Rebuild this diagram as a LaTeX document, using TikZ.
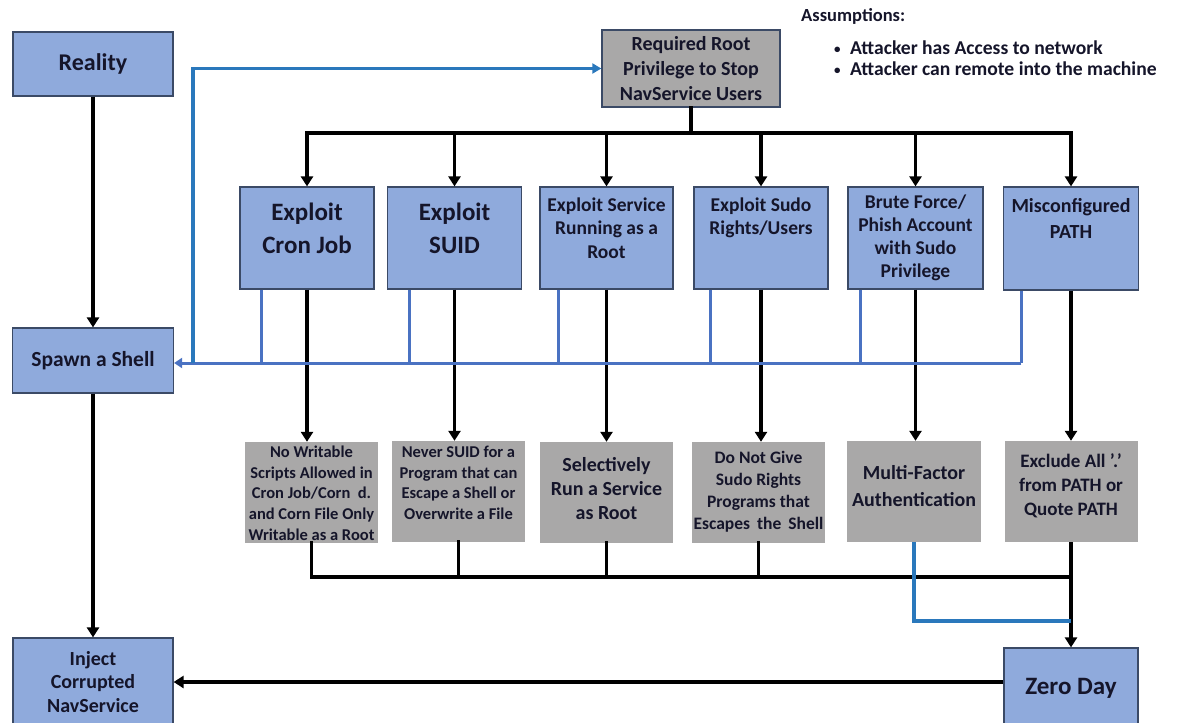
\documentclass[tikz,border=0pt]{standalone}
\usepackage{fontspec}
\setmainfont{Carlito}
\usetikzlibrary{arrows.meta,calc}

\definecolor{boxblue}{HTML}{8FAADC}
\definecolor{boxedge}{HTML}{3B4A66}
\definecolor{boxgray}{HTML}{A9A8A8}
\definecolor{ink}{HTML}{15152A}
\definecolor{busblue}{HTML}{4A72C2}
\definecolor{linkblue}{HTML}{2A78BC}

% top-aligned text block: height, width, font size, line skip, first baseline, text
\newcommand\boxtxt[6]{\parbox[c][#1pt][t]{#2pt}{\centering\fontsize{#3pt}{#4pt}\selectfont\rule{0pt}{#5pt}#6}}
\newcommand\fs[2]{\fontsize{#1pt}{#2pt}\selectfont}
\newcommand\bul{\makebox[16pt][l]{\raisebox{1pt}{\fs{13}{13}•}}}

\tikzset{
  bluebox/.style={draw=boxedge, line width=1.2pt, fill=boxblue, inner sep=0pt, text=ink, font=\bfseries},
  graybox/.style={fill=boxgray, inner sep=0pt, text=ink, font=\bfseries},
  rootbox/.style={draw=boxedge, line width=1.4pt, fill=boxgray, inner sep=0pt, text=ink, font=\bfseries},
  plain/.style={inner sep=0pt, text=ink, font=\bfseries},
  flow/.style={draw=black, line width=3.5pt, line cap=rect},
  flowarrow/.style={draw=black, line width=3.5pt, -{Triangle[width=12pt,length=10pt]}},
  busline/.style={draw=busblue, line width=3pt},
  linkline/.style={draw=linkblue, line width=3.2pt},
}

\begin{document}
\begin{tikzpicture}[x=1pt,y=-1pt]
\useasboundingbox (0,0) rectangle (1179,723);
\clip (0,0) rectangle (1179,723);

% left column
\node[bluebox, minimum width=160, minimum height=64, font=\bfseries\fs{24}{29}] (reality) at (93,64) {Reality};
\node[bluebox, minimum width=161, minimum height=65, font=\bfseries\fs{21.5}{26}] (spawn) at (93,360.5) {Spawn a Shell};
\node[bluebox, minimum width=160, minimum height=88, align=center, font=\bfseries\fs{20}{23.5}] (inject) at (93,682) {Inject\\Corrupted\\NavService};

% goal and assumptions
\node[rootbox, minimum width=178, minimum height=77, align=center, font=\bfseries\fs{20}{25}] (req) at (691,68.5) {Required Root\\Privilege to Stop\\NavService Users};
\node[plain, anchor=base west, font=\bfseries\fs{18.5}{22}] (asm) at (801,21) {Assumptions:};
\node[plain, anchor=base west, font=\bfseries\fs{19.6}{22}] (as1) at (834,54) {\bul Attacker has Access to network};
\node[plain, anchor=base west, font=\bfseries\fs{19.6}{22}] (as2) at (834,75) {\bul Attacker can remote into the machine};

% attack paths
\node[bluebox] (b1) at (307,238) {\boxtxt{102}{134}{25}{33}{33}{Exploit\\Cron Job}};
\node[bluebox] (b2) at (454.5,238) {\boxtxt{102}{134}{25}{33}{33}{Exploit\\SUID}};
\node[bluebox] (b3) at (606.5,238) {\boxtxt{102}{133}{19.5}{23.5}{24}{Exploit Service\\Running as a\\Root}};
\node[bluebox] (b4) at (761,238) {\boxtxt{102}{134}{19.5}{23.5}{24}{Exploit Sudo\\Rights/Users}};
\node[bluebox] (b5) at (915.5,238) {\boxtxt{102}{135}{19.5}{23}{21}{Brute Force/\\Phish Account\\with Sudo\\Privilege}};
\node[bluebox] (b6) at (1071,238.5) {\boxtxt{103}{135}{20}{26}{25.5}{Misconfigured\\PATH}};

% mitigations
\node[graybox] (g1) at (311.5,492.5) {\boxtxt{101}{133}{16.5}{20.7}{15.5}{No Writable\\Scripts Allowed in\\Cron Job/Corn\ \ d.\\and Corn File Only\\Writable as a Root}};
\node[graybox] (g2) at (458.5,491.5) {\boxtxt{101}{133}{16.5}{20.7}{16.5}{Never SUID for a\\Program that can\\Escape a Shell or\\Overwrite a File}};
\node[graybox] (g3) at (606.5,492.5) {\boxtxt{101}{133}{20}{24}{29.5}{Selectively\\Run a Service\\as Root}};
\node[graybox] (g4) at (758.5,492.5) {\boxtxt{101}{133}{17.5}{22}{21}{Do Not Give\\Sudo Rights\\Programs that\\{\spaceskip=7pt plus 1pt Escapes the Shell}}};
\node[graybox] (g5) at (914,491.5) {\boxtxt{101}{134}{20}{27}{38.5}{Multi-Factor\\Authentication}};
\node[graybox] (g6) at (1071,491.5) {\boxtxt{101}{133}{19}{24}{26}{Exclude All ’.’\\from PATH or\\Quote PATH}};

\node[bluebox, minimum width=134, minimum height=82, font=\bfseries\fs{25}{30}] (zero) at (1071,689) {\raisebox{6pt}{Zero Day}};

% bus levels
\coordinate (topbus) at (0,133);
\coordinate (fb) at (0,363);
\coordinate (botbus) at (0,577);
\coordinate (mfa) at (0,621);
\coordinate (fbL) at (193,363);

% goal fans out to the attack paths
\draw[flow] (req.south) -- (req.south |- topbus);
\draw[flow] (b1.north |- topbus) -- (b6.north |- topbus);
\foreach \b in {b1,b2,b3,b4,b5,b6}
  \draw[flowarrow] (\b.north |- topbus) -- (\b.north);

% each attack path to its mitigation
\foreach \i in {1,...,6}
  \draw[flowarrow] (b\i.south) -- (b\i.south |- g\i.north);

% mitigations merge into the zero day
\foreach \i in {1,2,3,4}
  \draw[flow] (g\i.south) -- (g\i.south |- botbus);
\draw[flow] (g1.south |- botbus) -- (zero.north |- botbus);
\draw[flowarrow] (g6.south) -- (zero.north);
\draw[linkline] (g5.south) |- (zero.north |- mfa);

% shell feedback from every attack path
\coordinate (f1) at ($(b1.south west)+(22,0)$);
\coordinate (f2) at ($(b2.south west)+(22.5,0)$);
\coordinate (f3) at ($(b3.south west)+(19,0)$);
\coordinate (f4) at ($(b4.south west)+(17,0)$);
\coordinate (f5) at ($(b5.south west)+(13,0)$);
\coordinate (f6) at ($(b6.south west)+(18.5,0)$);
\foreach \f in {f1,f2,f3,f4,f5,f6}
  \draw[busline] (\f) -- (\f |- fb);
\draw[busline, -{Triangle[width=10pt,length=8pt]}] (f6 |- fb) -- (spawn.east |- fb);
\draw[linkline, -{Triangle[width=10pt,length=9pt]}] (fbL) |- (req.west);

% left column flow
\draw[flowarrow] (reality.south) -- (spawn.north);
\draw[flowarrow] (spawn.south) -- (inject.north);
\draw[flowarrow] (zero.west |- inject.east) -- (inject.east);
\end{tikzpicture}
\end{document}
